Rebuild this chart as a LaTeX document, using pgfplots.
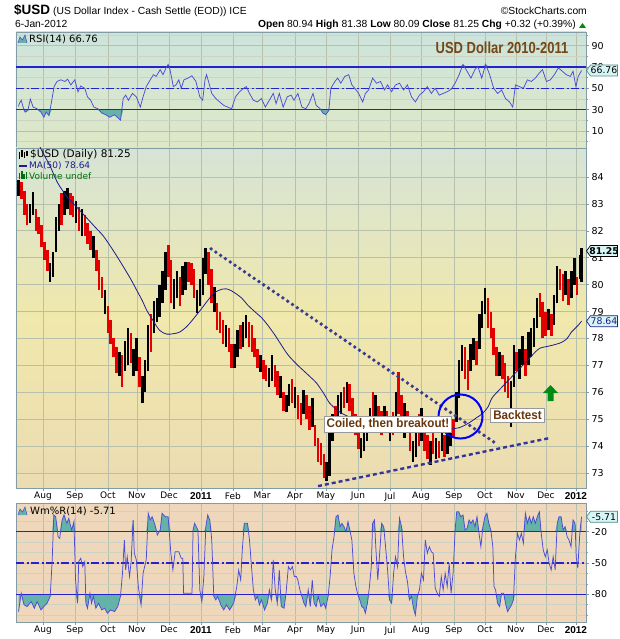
\documentclass[border=0pt]{standalone}
\usepackage{pgfplots}
\pgfplotsset{compat=1.18}
\usepackage{pgfplotstable}
\usepackage{fontspec}
\setmainfont{DejaVu Sans}
\newfontfamily\arialf{Liberation Sans}

\definecolor{gridc}{RGB}{182,192,170}
\definecolor{frame}{RGB}{130,155,165}
\definecolor{cred}{RGB}{228,0,0}
\definecolor{rsiblue}{RGB}{75,75,215}
\definecolor{tealfill}{RGB}{100,178,168}
\definecolor{lvl}{RGB}{35,35,205}
\definecolor{mablue}{RGB}{28,28,140}
\definecolor{trend}{RGB}{58,58,145}
\definecolor{brownt}{RGB}{105,55,12}
\definecolor{titlebrown}{RGB}{115,72,22}
\definecolor{rsitop}{RGB}{205,228,220}
\definecolor{rsibot}{RGB}{222,232,198}
\definecolor{prtop}{RGB}{214,228,214}
\definecolor{prmid}{RGB}{240,232,172}
\definecolor{prbot}{RGB}{236,220,178}
\definecolor{wmbg}{RGB}{238,215,186}
\definecolor{boxfill}{RGB}{215,245,245}
\definecolor{upgreen}{RGB}{0,140,20}

\pgfplotstableread{
d lo hi c
-17 83.3 83.9 1
-15 83.2 83.8 0
-13 82.6 83.5 0
-11 82.2 83.0 0
-9 82.3 83.0 1
-7 82.6 83.45 1
-5 82.0 82.8 0
-3 81.9 82.5 0
-1 81.4 82.2 0
1 80.9 81.6 0
3 80.5 81.3 0
5 80.1 80.8 1
7 80.3 81.2 1
9 81.2 82.5 1
11 82.0 83.0 1
13 82.2 83.4 0
15 82.6 83.5 1
17 82.8 83.6 1
19 82.6 83.4 0
21 82.5 83.3 0
23 82.3 83.1 1
25 82.0 82.9 0
27 81.8 82.8 1
29 81.8 82.6 0
31 81.5 82.3 0
33 81.3 82.0 0
35 81.0 81.8 1
37 80.5 81.3 0
39 79.8 80.9 0
41 79.5 80.3 0
43 78.9 79.8 1
45 78.2 79.2 0
47 77.8 78.7 0
49 77.3 78.0 0
51 76.7 77.7 0
53 76.6 77.5 1
55 76.2 77.4 0
57 76.8 77.9 1
59 77.0 78.4 1
61 77.1 78.2 0
63 76.6 77.6 1
65 76.8 78.0 1
67 76.2 77.3 0
69 75.6 76.6 1
71 76.0 77.2 1
73 76.8 78.5 1
75 77.5 78.9 0
77 78.2 79.4 1
79 78.6 79.5 1
81 78.8 80.0 1
83 79.3 80.5 1
85 79.8 81.2 1
87 80.3 81.47 0
89 79.3 80.9 0
91 79.1 80.2 1
93 79.5 80.5 1
95 79.2 80.3 0
97 79.6 80.7 1
99 79.8 80.85 1
101 80.1 80.85 0
103 80.0 80.8 0
105 79.5 80.6 0
107 78.95 79.8 1
109 79.2 80.2 1
111 79.6 81.0 1
113 80.4 81.38 1
115 80.0 81.2 0
117 79.3 80.6 0
119 79.0 79.9 1
121 78.3 79.3 0
123 78.2 79.0 0
125 77.8 78.7 0
127 77.7 78.5 1
129 77.5 78.4 0
131 76.9 77.8 0
133 76.9 77.8 1
135 77.3 78.3 1
137 77.6 78.5 0
139 77.7 78.6 1
141 78.0 78.87 1
143 77.7 78.6 0
145 77.5 78.5 0
147 77.3 78.0 0
149 76.9 77.6 0
151 76.75 77.4 1
153 76.5 77.2 0
155 76.4 77.0 0
157 76.2 76.9 1
159 76.4 77.4 1
161 76.2 77.0 0
163 75.9 76.8 0
165 75.8 76.6 1
167 75.3 76.0 0
169 75.25 75.9 1
171 75.5 76.3 1
173 75.6 76.5 0
175 75.4 76.2 1
177 75.0 75.9 0
179 74.8 75.6 0
181 75.2 76.1 1
183 75.0 75.9 0
185 74.6 75.5 0
187 74.7 75.8 1
189 74.0 74.8 0
191 73.4 74.3 0
193 73.3 74.1 0
195 72.8 73.7 0
197 72.7 73.4 1
199 72.9 74.5 1
201 74.2 75.2 1
203 74.6 75.5 0
205 75.0 75.9 1
207 75.2 76.0 1
209 75.4 76.2 0
211 75.6 76.38 1
213 75.3 76.3 0
215 74.9 75.8 0
217 74.4 75.2 0
219 73.9 74.8 0
221 73.55 74.3 1
223 73.8 74.5 1
225 74.2 75.0 1
227 74.5 75.4 1
229 75.0 76.0 0
231 74.8 75.9 1
233 74.6 75.5 0
235 74.4 75.3 0
237 74.6 75.5 1
239 74.5 75.3 0
241 74.2 75.0 1
243 74.4 75.25 0
245 74.8 76.0 1
247 75.2 76.75 0
249 74.9 75.9 0
251 74.3 75.6 1
253 74.5 75.3 0
255 73.8 74.5 0
257 73.4 74.2 1
259 73.6 74.5 1
261 74.0 75.2 0
263 74.2 75.4 1
265 73.8 74.9 0
267 73.5 74.4 0
269 73.3 74.2 1
271 73.7 74.7 0
273 73.5 74.3 1
275 73.55 74.2 0
277 73.8 74.7 1
279 73.6 74.4 0
281 73.7 74.6 1
283 74.0 74.9 1
285 74.3 75.0 0
287 74.9 76.0 1
289 75.8 77.2 1
291 76.8 77.75 1
293 76.5 77.7 0
295 76.1 77.2 0
297 76.8 77.8 1
299 77.2 78.0 1
301 77.0 77.9 0
303 77.6 78.9 1
305 78.4 79.4 1
307 78.9 79.87 1
309 78.4 79.5 0
311 78.0 79.0 0
313 77.4 78.4 0
315 76.6 77.7 0
317 76.6 77.5 1
319 76.5 77.4 0
321 76.0 77.1 0
323 75.8 76.6 0
325 74.7 76.4 1
327 76.2 77.75 1
329 76.8 77.5 0
331 76.5 77.6 1
333 77.0 78.1 1
335 76.6 77.6 0
337 77.0 78.25 1
339 77.3 78.4 1
341 77.7 78.75 1
343 78.4 79.5 1
345 78.8 79.7 0
347 78.0 79.35 0
349 78.1 79.0 0
351 78.3 79.1 1
353 78.1 78.9 0
355 78.5 79.6 1
357 79.3 80.7 1
359 79.8 80.6 0
361 79.4 80.4 0
363 79.6 80.5 1
365 79.25 80.2 0
367 79.5 80.5 1
369 80.0 81.0 1
371 79.6 80.3 0
373 80.2 81.1 1
374 80.09 81.38 1
}\candles

\pgfplotstableread{
d v
-17 86.6
-9 85.9
-1 85.0
5 84.4
10 83.8
17 83.25
24 82.85
30 82.5
36 82.15
42 81.8
49 81.25
56 80.65
61 80.2
65 79.8
69 79.4
72 79.05
76 78.7
81 78.3
86 78.16
91 78.18
95 78.24
100 78.45
104 78.7
110 79.1
115 79.45
119 79.7
125 79.84
129 79.82
133 79.7
138 79.5
142 79.25
147 79.0
152 78.76
156 78.5
161 78.13
165 77.8
170 77.4
176 77.05
182 76.75
186 76.55
190 76.34
195 75.95
199 75.6
204 75.35
208 75.2
214 75.05
220 74.9
227 74.8
234 74.75
241 74.72
248 74.7
255 74.68
262 74.65
269 74.62
276 74.6
283 74.63
290 74.7
297 74.9
301 75.05
305 75.2
309 75.45
312 75.8
318 76.15
326 76.6
335 77.1
344 77.6
350 77.7
354 77.75
360 77.85
364 78.0
367 78.24
371 78.45
374 78.64
}\madata

\pgfplotstableread{
d r
-17 33
-16.5 35.6
-15.1 38.8
-13.8 32.4
-12.4 27.6
-10.5 29.2
-8.8 40
-6.9 32.4
-4.1 30.8
-1.4 27.6
0.6 22.8
2.2 27.6
4.2 24.4
6.1 38.8
7.7 51.6
9.7 56.4
12.4 58
15.2 56.4
17.1 58.6
19.3 53.2
22.1 58
24.3 46.8
26.2 52.2
29.0 50
30.9 42
33.1 38.8
35.3 32.4
38.1 30.8
40.8 26.8
43.6 25.2
46.3 22.8
49.7 25.2
52.4 21.8
53.8 20.2
55.7 40.4
57.4 43.6
59.3 38.8
62.1 45.2
64.8 42
67.6 32.4
69.5 42
71.7 51.6
74.5 58
76.7 62.8
78.6 61.2
81.4 67.6
83.3 62.8
85.5 69.2
86.9 72.4
88.2 67.6
90.5 51.6
92.4 53.2
94.3 58
96.0 50
97.9 58
100.7 59.6
103.4 61.8
106.2 56.4
108.9 42
110.9 38.8
112.5 58
113.6 62.8
115.3 54.8
117.2 45.2
120.0 40.4
122.7 37.2
125.5 34
128.2 32.4
131.0 30.8
133.7 42
136.5 46.8
139.3 50
141.2 51.6
143.4 45.2
146.1 38.8
148.9 37.2
151.7 40.4
154.4 32.4
157.2 38.8
159.9 45.2
161.9 35.6
164.1 45.2
166.8 32.4
169.6 42
172.3 43.6
174.3 38.8
177.0 45.2
179.8 32.4
182.5 30.8
184.7 35.6
187.5 45.2
189.7 34
192.5 30.8
194.4 26.8
196.3 25.2
198.5 29.2
199.9 50
202.7 56.4
204.6 59.6
206.8 54.8
209.6 61.2
212.3 62.8
214.5 53.2
216.5 50
219.2 45.2
222.0 37.2
223.9 45.2
226.1 48.4
228.9 59.6
231.6 54.8
234.4 56.4
237.1 48.4
239.3 53.2
242.1 46.8
244.8 53.2
247.6 54.8
250.4 48.4
253.1 53.2
255.9 42
258.6 37.2
261.4 43.6
264.2 46.8
266.9 51.6
269.7 45.2
272.4 50
275.2 43.6
277.9 45.2
280.7 46.8
283.4 49
286.2 54.8
289.0 62.8
291.7 72.4
294.5 66
297.2 59.6
300.0 67.6
301.9 70.8
304.7 59.6
307.4 72.4
310.2 62.8
313.0 50
315.7 45.2
318.5 48.4
321.2 40.4
324.0 37.2
326.2 32.4
328.1 53.2
330.9 51.6
333.6 50
336.4 58
339.1 56.4
341.9 59.6
344.7 64.4
346.9 67.6
349.6 56.4
352.4 58
355.1 62.8
357.9 69.2
360.7 66
363.4 62.8
366.2 61.2
368.1 66
370.1 51.6
371.7 61.2
374 66.76
}\rsidata

\pgfplotstableread{
d w
-17 -96.6
-15.1 -79
-13.2 -90
-11.0 -91.8
-8.2 -87
-6.0 -93.4
-4.1 -87
-1.4 -95
0.6 -91.8
2.8 -88.6
5.0 -82
6.4 -47
7.5 -4
8.8 -5.6
10.5 -24.8
11.6 -26.4
13.3 -8.8
14.6 -4
16.6 -12
17.9 -7.2
19.9 -18.4
21.5 -10.4
22.6 -66.3
24.0 -88.6
24.8 -48.7
26.2 -45.5
27.6 -53.5
29.0 -48.7
29.8 -88.6
30.9 -93.4
32.6 -79
33.7 -88.6
35.0 -82
36.7 -93.4
38.6 -88.6
40.8 -95
42.8 -93.4
44.7 -98.2
46.9 -95
49.7 -96.6
51.9 -91.8
53.8 -82
55.2 -59.9
56.5 -28
57.4 -56.7
58.5 -44
60.1 -63
61.2 -48.7
62.6 -8.8
63.4 -40.7
64.8 -47
66.2 -72.6
68.1 -90.2
69.5 -59.9
71.7 -47
73.1 -2.4
74.5 -8.8
75.8 -5.6
77.8 -13.6
79.4 -23.2
81.4 -18.4
82.7 -2.4
84.9 -5.6
86.9 -5.6
88.8 -40.7
90.2 -56.7
91.8 -39.2
94.3 -39.2
96.0 -45.5
97.1 -45.5
97.6 -79
103.5 -79
104.2 -18.4
105.3 -12
107.6 -18.4
108.9 -75.8
110.3 -87
111.7 -63
113.1 -15.2
114.4 -4
115.8 -8.8
117.2 -28
118.6 -82
120.0 -85.4
121.3 -82
123.5 -90.2
125.5 -95
127.4 -90.2
129.6 -95
132.4 -88.6
134.6 -72.6
135.9 -56.7
137.3 -66.3
138.4 -37.5
139.8 -12
142.0 -12
143.4 -28
144.8 -53.5
146.1 -75.8
147.5 -85.4
148.9 -82
150.3 -90.2
151.7 -85.4
153.9 -95
155.8 -88.6
157.2 -75.8
158.6 -85.4
159.9 -47
161.3 -75.8
162.7 -88.6
164.1 -56.7
165.5 -91.8
167.4 -93.4
168.8 -79
170.4 -53.5
171.8 -56.7
173.2 -53.5
174.5 -63
175.9 -63
177.0 -66.3
178.4 -75.8
179.8 -82
181.2 -88.6
182.5 -91.8
184.2 -75.8
185.6 -91.8
187.0 -66.3
188.3 -88.6
189.7 -91.8
191.1 -82
193.0 -91.8
195.0 -88.6
196.3 -93.4
198.0 -82
199.4 -63
200.7 -37.5
202.1 -24.8
203.5 -5.6
204.9 -4
206.3 -15.2
207.6 -12
209.0 -15.2
210.4 -20
211.8 -10.4
213.1 -18.4
214.5 -28
215.9 -59.9
217.3 -72.6
218.7 -80.6
220.0 -85.4
221.4 -91.8
222.8 -93.4
223.9 -98.2
225.3 -88.6
226.7 -72.6
228.0 -53.5
228.9 -12
230.2 -8.8
231.1 -34.4
232.5 -66.3
233.8 -40.7
235.2 -12
236.6 -15.2
238.0 -36
239.3 -56.7
240.7 -85.4
242.1 -88.6
243.5 -59.9
244.8 -44
246.2 -53.5
247.6 -7.2
249.0 -15.2
250.4 -44
251.7 -58.3
253.1 -67.9
254.5 -85.4
255.9 -82
257.3 -93.4
258.6 -99.8
260.0 -82
261.4 -75.8
262.8 -59.9
264.2 -66.3
265.5 -28
266.9 -40.7
268.3 -34.4
269.7 -39.2
271.0 -40.7
272.4 -74.4
273.8 -79
275.2 -82
276.6 -63
277.9 -75.8
279.3 -59.9
280.7 -72.6
282.1 -50.3
283.4 -79
284.8 -59.9
286.2 -18.4
287.3 -0.9
288.7 -0.9
290.1 -5.6
291.7 -4
293.1 -18.4
294.5 -16.8
295.9 -8.8
297.2 -12
298.6 -8.8
300.0 -15.2
301.4 -5.6
302.8 -21.6
304.1 -34.4
305.5 -15.2
306.9 -5.6
308.3 -2.4
309.6 -12
311.0 -18.4
312.4 -34.4
313.2 -72.6
314.3 -75.8
315.7 -88.6
317.1 -91.8
318.5 -79
319.9 -79
321.2 -88.6
322.6 -96.6
324.0 -93.4
325.4 -90.2
326.7 -85.4
328.1 -44
329.5 -21.6
330.9 -28
332.2 -21.6
333.6 -31.2
335.0 -2.4
336.4 -12
337.8 -5.6
339.1 -12
340.5 -5.6
341.9 -12
343.3 -5.6
344.7 -0.9
346.0 -21.6
347.4 -37.5
348.8 -44
350.2 -37.5
351.5 -50.3
352.9 -56.7
354.3 -44
355.7 -56.7
357.1 -12
358.4 -5.6
359.8 -5.6
361.2 -18.4
362.6 -15.2
364.0 -24.8
365.3 -28
366.7 -34.4
368.1 -8.8
369.5 -12
370.3 -44
371.4 -55
372.8 -21.6
374 -5.71
}\wmdata

\pgfplotsset{
 panel/.style={
  scale only axis, width=570pt,
  xmin=-18.75, xmax=377.1,
  clip mode=individual,
  axis line style={frame, line width=0.8pt},
  xtick={0,22.2,45.1,65.3,87.5,109.7,131.9,152.1,175,196.5,218.75,240.97,262.5,285.4,306.9,328.5,349.3,370.1},
  xmajorgrids, ymajorgrids,
  grid style={gridc, line width=0.7pt},
  tick align=outside, major tick length=3pt, minor tick length=2pt,
  tick style={frame, line width=0.6pt},
  xtick pos=left, ytick pos=right,
  yticklabel pos=right,
  xticklabel style={font=\fontsize{9}{10}\selectfont, inner sep=1pt},
  yticklabel style={font=\fontsize{9.5}{10}\selectfont, anchor=west, xshift=-1pt},
  /pgf/number format/assume math mode=true,
 },
 months/.style={xticklabels={Aug,Sep,Oct,Nov,Dec,{\arialf\bfseries\fontsize{10}{10}\selectfont 2011},Feb,Mar,Apr,May,Jun,Jul,Aug,Sep,Oct,Nov,Dec,{\arialf\bfseries\fontsize{10}{10}\selectfont 2012}}},
 lvlline/.style={lvl, line width=1.1pt},
 lvldash/.style={lvl, line width=1.1pt, dash pattern=on 8pt off 2.5pt on 2pt off 2.5pt},
 candle/.style={only marks, mark=*, mark size=0pt, mark options={draw opacity=0, fill opacity=0},
  error bars/.cd, y dir=plus, y explicit, error mark=none,
  error bar style={line width=2.5pt, color=#1, line cap=butt}},
}

\begin{document}
\begin{tikzpicture}
\useasboundingbox (0,0) rectangle (620pt,-639pt);
\fill[white] (0,0) rectangle (620pt,-639pt);

% ---------------- RSI panel ----------------
\begin{axis}[panel, at={(16pt,-32pt)}, anchor=north west, height=116pt,
  ymin=-6.06, ymax=102.9, ytick={10,30,50,70,90},
  minor ytick={0,20,40,60,80,100}, yminorgrids, minor grid style={gridc!70, line width=0.5pt},
  xticklabels={}, xtick style={draw=none},
  axis background/.style={shade, top color=rsitop, bottom color=rsibot}]
\addplot[fill=tealfill, draw=none] table[x=d, y expr={min(\thisrow{r},30)}] {\rsidata} -- (axis cs:374,30) -- (axis cs:-17,30) -- cycle;
\addplot[fill=tealfill, draw=none] table[x=d, y expr={max(\thisrow{r},70)}] {\rsidata} -- (axis cs:374,70) -- (axis cs:-17,70) -- cycle;
\addplot[lvlline] coordinates {(-18.75,30) (377.1,30)};
\addplot[lvlline] coordinates {(-18.75,70) (377.1,70)};
\addplot[lvldash] coordinates {(-18.75,50) (377.1,50)};
\addplot[rsiblue, line width=0.75pt] table[x=d, y=r] {\rsidata};
\end{axis}

% ---------------- Price panel ----------------
\begin{axis}[panel, months, at={(16pt,-148pt)}, anchor=north west, height=340pt,
  ymin=72.44, ymax=85.08, ytick={73,74,...,84},
  axis background/.style={shade, top color=prtop, bottom color=prbot, middle color=prmid}]
\addplot[restrict expr to domain={\thisrow{c}}{-0.5:0.5}, candle=cred]
  table[x=d, y=lo, y error expr=\thisrow{hi}-\thisrow{lo}] {\candles};
\addplot[restrict expr to domain={\thisrow{c}}{0.5:1.5}, candle=black]
  table[x=d, y=lo, y error expr=\thisrow{hi}-\thisrow{lo}] {\candles};
\addplot[mablue, line width=0.8pt, smooth] table[x=d, y=v] {\madata};
% trend lines
\addplot[trend, line width=3.8pt, line cap=round, dash pattern=on 0pt off 5.8pt] coordinates {(116.7,81.33) (315.3,74.07)};
\addplot[trend!90!blue, line width=2.4pt, dash pattern=on 4pt off 3pt] coordinates {(191,72.51) (352.1,74.3)};
\end{axis}

% ---------------- Williams %R panel ----------------
\begin{axis}[panel, months, at={(16pt,-503pt)}, anchor=north west, height=119pt,
  ymin=-106.6, ymax=7.5, ytick={-80,-50,-20}, yticklabels={-80,-50,-20},
  minor ytick={-100,-90,-70,-60,-40,-30,-10,0}, yminorgrids, minor grid style={gridc!70, line width=0.5pt},
  axis background/.style={fill=wmbg}]
\addplot[fill=tealfill, draw=none] table[x=d, y expr={min(\thisrow{w},-80)}] {\wmdata} -- (axis cs:374,-80) -- (axis cs:-17,-80) -- cycle;
\addplot[fill=tealfill, draw=none] table[x=d, y expr={max(\thisrow{w},-20)}] {\wmdata} -- (axis cs:374,-20) -- (axis cs:-17,-20) -- cycle;
\addplot[lvlline] coordinates {(-18.75,-20) (377.1,-20)};
\addplot[lvlline] coordinates {(-18.75,-80) (377.1,-80)};
\addplot[lvldash] coordinates {(-18.75,-50) (377.1,-50)};
\addplot[rsiblue, line width=0.75pt] table[x=d, y=w] {\wmdata};
\end{axis}

% ---------------- annotations in page coordinates (1pt = 1px) ----------------
% circle, labels, arrow in price panel
\draw[blue, line width=2pt] (460.5pt,-416.5pt) circle [radius=22pt];
\node[fill=white, draw=gray!80, line width=0.8pt, inner sep=2.5pt, text=brownt,
  font=\arialf\bfseries\fontsize{12.5}{13}\selectfont] at (388pt,-424pt)
  {\scalebox{0.93}[1]{Coiled, then breakout!}};
\node[fill=white, draw=gray!80, line width=0.8pt, inner sep=2.5pt, text=brownt,
  font=\arialf\bfseries\fontsize{12.5}{13}\selectfont] at (517.5pt,-415pt)
  {\scalebox{0.93}[1]{Backtest}};
\fill[upgreen] (547.5pt,-401pt) -- (553.5pt,-401pt) -- (553.5pt,-393pt) -- (558pt,-393pt)
  -- (550.5pt,-385pt) -- (543pt,-393pt) -- (547.5pt,-393pt) -- cycle;

% value boxes on the right
\foreach \yy/\txt/\bd/\tc/\ft in {
   70.5/66.76/tealfill!80!black/black/\mdseries,
   251/81.25/black/black/\bfseries,
   321.2/78.64/mablue/mablue/\mdseries,
   516.8/-5.71/tealfill!80!black/black/\mdseries}{
  \draw[fill=boxfill, draw=\bd, line width=0.7pt] (586.5pt,-\yy pt) -- (590.5pt,-\yy pt+5.5pt)
    -- (617.5pt,-\yy pt+5.5pt) -- (617.5pt,-\yy pt-5.5pt) -- (590.5pt,-\yy pt-5.5pt) -- cycle;
  \node[inner sep=0pt, text=\tc, font=\ft\fontsize{9.3}{10}\selectfont] at (604pt,-\yy pt) {\txt};
}

% ---------------- header ----------------
\node[anchor=base west, inner sep=0pt] at (14pt,-15pt) {\arialf\bfseries\fontsize{13.5}{14}\selectfont \$USD};
\node[anchor=base west, inner sep=0pt] at (53pt,-14.5pt) {\arialf\fontsize{10.3}{11}\selectfont (US Dollar Index - Cash Settle (EOD)) ICE};
\node[anchor=base east, inner sep=0pt] at (587pt,-14.5pt) {\arialf\fontsize{10.3}{11}\selectfont \textcopyright StockCharts.com};
\node[anchor=base west, inner sep=0pt] at (15pt,-28pt) {\arialf\fontsize{10.3}{11}\selectfont 6-Jan-2012};
\node[anchor=base east, inner sep=0pt] at (576pt,-28pt) {\arialf\fontsize{10.3}{11}\selectfont \textbf{Open} 80.94 \textbf{High} 81.38 \textbf{Low} 80.09 \textbf{Close} 81.25 \textbf{Chg} +0.32 (+0.39\%)};
\fill[upgreen] (579pt,-28pt) -- (586pt,-28pt) -- (582.5pt,-23pt) -- cycle;

% title in RSI panel
\node[text=titlebrown, inner sep=0pt] at (502pt,-48pt) {\arialf\bfseries\fontsize{16}{16}\selectfont\scalebox{0.81}[1]{USD Dollar 2010-2011}};

% RSI legend
\fill[tealfill] (18pt,-43pt) -- (20pt,-37pt) -- (22.5pt,-40pt) -- (25pt,-35pt) -- (27pt,-43pt) -- cycle;
\draw[rsiblue, line width=0.6pt] (18pt,-43pt) -- (20pt,-37pt) -- (22.5pt,-40pt) -- (25pt,-35pt) -- (27pt,-43pt);
\node[anchor=west, inner sep=0pt] at (29pt,-39pt) {\fontsize{10}{10}\selectfont RSI(14) 66.76};

% price legend
\foreach \xx/\ya/\yb in {19.5/152/159, 22/150.5/157, 24.5/152.5/158.5, 27/151/156}
  \draw[black, line width=1.1pt] (\xx pt,-\ya pt) -- (\xx pt,-\yb pt);
\node[anchor=west, inner sep=0pt] at (30pt,-155pt) {\fontsize{10.5}{11}\selectfont \$USD (Daily) 81.25};
\draw[mablue, line width=1.5pt] (19pt,-166pt) -- (27pt,-166pt);
\node[anchor=west, inner sep=0pt, text=mablue] at (29pt,-166pt) {\fontsize{9}{10}\selectfont MA(50) 78.64};
\foreach \xx/\ya in {19.5/173, 21.8/171, 24.1/174, 26.4/172}
  \fill[upgreen!80!black] (\xx pt-0.9pt,-\ya pt) rectangle (\xx pt+0.9pt,-179pt);
\node[anchor=west, inner sep=0pt, text=upgreen!80!black] at (29pt,-176pt) {\fontsize{9}{10}\selectfont Volume undef};

% Williams legend
\fill[tealfill] (18pt,-515pt) -- (20pt,-509pt) -- (22.5pt,-512pt) -- (25pt,-507pt) -- (27pt,-515pt) -- cycle;
\draw[rsiblue, line width=0.6pt] (18pt,-515pt) -- (20pt,-509pt) -- (22.5pt,-512pt) -- (25pt,-507pt) -- (27pt,-515pt);
\node[anchor=west, inner sep=0pt] at (30pt,-511pt) {\fontsize{10}{10}\selectfont Wm\%R(14) -5.71};
\end{tikzpicture}
\end{document}
